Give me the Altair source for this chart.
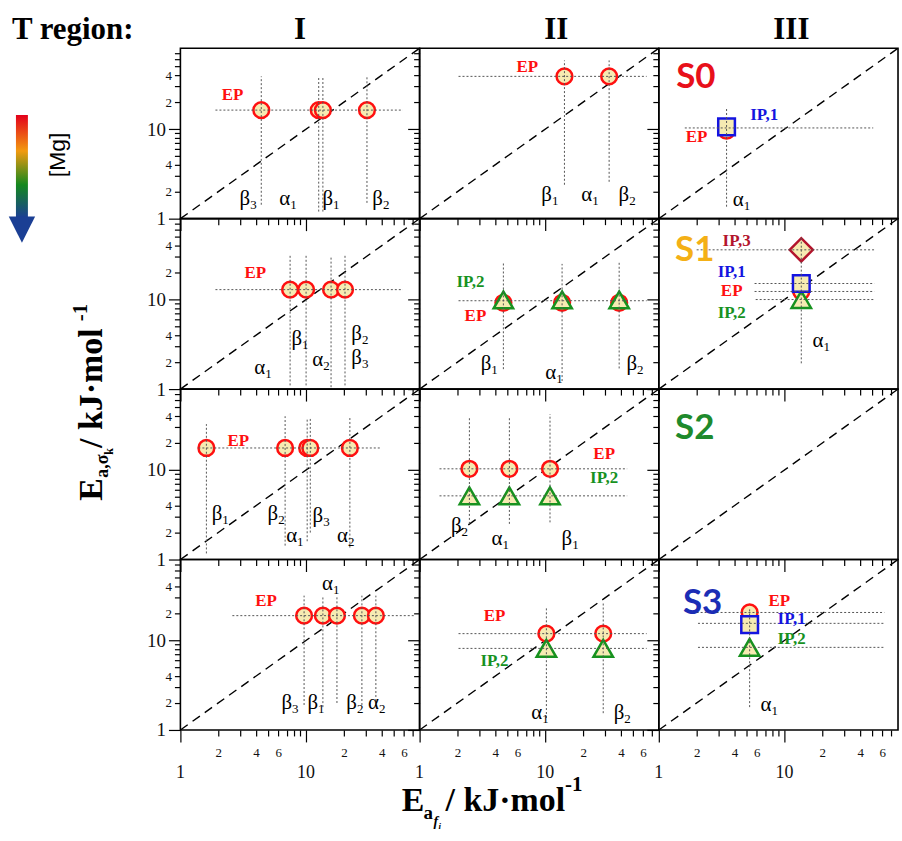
import altair as alt
import pandas as pd

XMAX = 80
TICKS = [1, 2, 3, 4, 5, 6, 7, 8, 9, 10, 20, 30, 40, 50, 60, 70]
MAJOR_X = [1, 10]
MAJOR_X_TEXT = ["1", "10"]
DIAG = [1, 80]

# ---------------- markers: row, col, x (Ea,f), y (Ea,sigma), kind
MK_ROW = [0, 0, 0, 0,  0, 0,  0, 0,
          1, 1, 1, 1,  1, 1, 1, 1, 1, 1,  1, 1, 1, 1,
          2, 2, 2, 2, 2,  2, 2, 2, 2, 2, 2,
          3, 3, 3, 3, 3,  3, 3, 3, 3,  3, 3, 3]
MK_COL = [0, 0, 0, 0,  1, 1,  2, 2,
          0, 0, 0, 0,  1, 1, 1, 1, 1, 1,  2, 2, 2, 2,
          0, 0, 0, 0, 0,  1, 1, 1, 1, 1, 1,
          0, 0, 0, 0, 0,  1, 1, 1, 1,  2, 2, 2]
MK_X = [4.4, 12.6, 13.6, 30.5,  14.2, 32.2,  3.46, 3.46,
        7.46, 10.0, 15.8, 20.4,  4.64, 13.6, 38.7, 4.64, 13.6, 38.7,  13.6, 13.6, 13.6, 13.6,
        1.61, 6.81, 10.2, 10.8, 22.3,  2.49, 5.18, 10.9, 2.49, 5.18, 10.9,
        9.64, 13.6, 17.6, 27.8, 35.9,  10.2, 28.9, 10.2, 28.9,  5.28, 5.28, 5.28]
MK_Y = [16.3, 16.3, 16.3, 16.3,  38.8, 38.8,  9.6, 10.6,
        12.9, 12.9, 12.9, 12.9,  9.2, 9.2, 9.2, 9.9, 9.9, 9.9,  12.3, 10.0, 15.1, 35.9,
        17.6, 17.6, 17.6, 17.6, 17.6,  10.3, 10.3, 10.3, 5.14, 5.14, 5.14,
        18.9, 18.9, 18.9, 18.9, 18.9,  11.9, 11.9, 8.14, 8.14,  20.5, 15.0, 8.36]
MK_KIND = ["EP", "EP", "EP", "EP",  "EP", "EP",  "EP", "IP1",
           "EP", "EP", "EP", "EP",  "EP", "EP", "EP", "IP2", "IP2", "IP2",  "EP", "IP2", "IP1", "IP3",
           "EP", "EP", "EP", "EP", "EP",  "EP", "EP", "EP", "IP2", "IP2", "IP2",
           "EP", "EP", "EP", "EP", "EP",  "EP", "EP", "IP2", "IP2",  "EP", "IP1", "IP2"]

# ---------------- vertical dotted guides: row, col, x, y1, y2
VL_ROW = [0, 0, 0, 0, 0, 0, 0, 1, 1, 1, 1, 1, 1, 1, 1, 2, 2, 2, 2, 2, 2, 2, 2, 3, 3, 3, 3, 3, 3, 3, 3]
VL_COL = [0, 0, 0, 0, 1, 1, 2, 0, 0, 0, 0, 1, 1, 1, 2, 0, 0, 0, 0, 0, 1, 1, 1, 0, 0, 0, 0, 0, 1, 1, 2]
VL_X = [4.4, 12.6, 13.6, 30.5, 14.2, 32.2, 3.46,
        7.46, 10.0, 15.8, 20.4, 4.64, 13.6, 38.7, 13.6,
        1.61, 6.81, 10.2, 10.8, 22.3, 2.49, 5.18, 10.9,
        9.64, 13.6, 17.6, 27.8, 35.9, 10.2, 28.9, 5.28]
VL_Y1 = [1.43, 1.2, 1.2, 1.5, 2.39, 2.58, 1.36,
         1.1, 1.1, 1.05, 1.1, 1.67, 1.23, 1.7, 1.94,
         1.17, 1.43, 1.6, 2.0, 1.36, 2.5, 2.5, 2.6,
         1.9, 1.8, 2.0, 1.9, 1.9, 1.36, 1.54, 1.8]
VL_Y2 = [38.8, 38.8, 38.8, 38.8, 58.5, 58.5, 17.5,
         30.8, 30.8, 30.8, 30.8, 26.4, 25.0, 27.0, 48.9,
         32.5, 39.8, 38.0, 38.0, 38.0, 39.8, 39.8, 42.0,
         31.6, 31.6, 31.6, 31.6, 31.6, 23.3, 25.8, 23.3]

# ---------------- horizontal dotted guides: row, col, y, x1, x2
HL_ROW = [0, 0, 0, 1, 1, 1, 1, 1, 1, 2, 2, 2, 3, 3, 3, 3, 3, 3]
HL_COL = [0, 1, 2, 0, 1, 2, 2, 2, 2, 0, 1, 1, 0, 1, 1, 2, 2, 2]
HL_Y = [16.3, 38.8, 10.3, 12.9, 9.7, 35.9, 15.1, 12.3, 10.0, 17.6, 10.3, 5.14, 18.9, 11.9, 8.14, 20.5, 15.5, 8.36]
HL_X1 = [1.9, 2.04, 1.61, 1.9, 2.04, 2.0, 5.78, 5.78, 5.9, 1.39, 1.44, 1.44, 2.59, 2.04, 2.04, 2.0, 2.05, 2.05]
HL_X2 = [58.9, 64, 50.8, 58.9, 64, 51.8, 51.8, 51.8, 51.8, 39.4, 44.8, 44.8, 73, 64, 64, 62.2, 62.2, 62.2]

# ---------------- point labels: row, col, x, y, text, kind
LB_ROW = [0, 0, 0, 0, 0, 1, 1, 1, 1, 1, 1, 1, 1, 2, 2, 2, 2, 3, 3, 3, 3, 3, 3, 3]
LB_COL = [0, 1, 2, 2, 2, 0, 1, 1, 2, 2, 2, 2, 2, 0, 1, 1, 2, 0, 1, 1, 2, 2, 2, 2]
LB_X = [2.6, 7.2, 1.97, 6.9, 2.0, 3.94, 2.54, 2.78, 1.93, 4.16, 3.8, 3.8, 3.8,
        2.89, 29.4, 29.4, 1.93, 4.8, 3.94, 3.94, 2.23, 9.1, 11.4, 11.4]
LB_Y = [23.9, 48.9, 37.8, 14.3, 8.1, 19.9, 15.5, 6.47, 35.9, 45.3, 20.5, 12.3, 7.0,
        21.0, 15.1, 8.14, 29.3, 27.8, 18.9, 5.84, 26.4, 27.8, 17.5, 10.3]
LB_TEXT = ["EP", "EP", "S0", "IP,1", "EP", "EP", "IP,2", "EP", "S1", "IP,3", "IP,1", "EP", "IP,2",
           "EP", "EP", "IP,2", "S2", "EP", "EP", "IP,2", "S3", "EP", "IP,1", "IP,2"]
LB_KIND = ["EP", "EP", "S0", "IP1", "EP", "EP", "IP2", "EP", "S1", "IP3", "IP1", "EP", "IP2",
           "EP", "EP", "IP2", "S2", "EP", "EP", "IP2", "S3", "EP", "IP1", "IP2"]

# ---------------- greek labels: row, col, x, y, letter, subscript
GR_ROW = [0, 0, 0, 0, 0, 0, 0, 0, 1, 1, 1, 1, 1, 1, 1, 1, 1,
          2, 2, 2, 2, 2, 2, 2, 2, 3, 3, 3, 3, 3, 3, 3, 3]
GR_COL = [0, 0, 0, 0, 1, 1, 1, 2, 0, 0, 0, 0, 0, 1, 1, 1, 2,
          0, 0, 0, 0, 0, 1, 1, 1, 0, 0, 0, 0, 0, 1, 1, 2]
GR_X = [3.46, 7.2, 15.8, 39.4, 10.9, 22.8, 44.9, 4.56, 4.56, 8.96, 13.2, 26.8, 26.8, 3.59, 11.8, 51.8, 19.7,
        2.08, 5.78, 8.18, 13.2, 20.8, 2.08, 4.4, 15.8, 15.8, 7.46, 12.0, 24.5, 36.6, 9.1, 41.0, 7.6]
GR_Y = [1.67, 1.67, 1.67, 1.67, 1.85, 1.85, 1.85, 1.63, 1.71, 3.59, 2.1, 4.08, 2.21, 1.9, 1.5, 1.9, 3.41,
        3.24, 3.24, 1.85, 3.08, 1.85, 2.39, 1.71, 1.71, 43.0, 2.0, 2.0, 2.0, 2.0, 1.55, 1.55, 1.9]
GR_LET = ["β", "α", "β", "β", "β", "α", "β", "α", "α", "β", "α", "β", "β", "β", "α", "β", "α",
          "β", "β", "α", "β", "α", "β", "α", "β", "α", "β", "β", "β", "α", "α", "β", "α"]
GR_SUB = ["3", "1", "1", "2", "1", "1", "2", "1", "1", "1", "2", "2", "3", "1", "1", "2", "1",
          "1", "2", "1", "3", "2", "2", "1", "1", "1", "3", "1", "2", "2", "1", "2", "1"]

# ---------------- styles
KIND_NAMES = ["EP", "IP1", "IP2", "IP3", "S0", "S1", "S2", "S3"]
KIND_COLORS = ["#ff1010", "#1414e0", "#17921f", "#b3142c", "#e8101a", "#f4b016", "#1e8a2c", "#1b2db5"]
MARK_SHAPES = {"EP": ("circle", 250), "IP2": ("triangle-up", 380), "IP1": ("square", 280), "IP3": ("diamond", 540)}
FILL = "#f6ebb2"
SERIF = "Liberation Serif"

markers = pd.DataFrame({"row": MK_ROW, "col": MK_COL, "x": MK_X, "y": MK_Y, "kind": MK_KIND})
vlines = pd.DataFrame({"row": VL_ROW, "col": VL_COL, "x": VL_X, "y1": VL_Y1, "y2": VL_Y2})
hlines = pd.DataFrame({"row": HL_ROW, "col": HL_COL, "y": HL_Y, "x1": HL_X1, "x2": HL_X2})
labels = pd.DataFrame({"row": LB_ROW, "col": LB_COL, "x": LB_X, "y": LB_Y, "text": LB_TEXT, "kind": LB_KIND})
greek = pd.DataFrame({"row": GR_ROW, "col": GR_COL, "x": GR_X, "y": GR_Y, "g": GR_LET, "s": GR_SUB})
majx = pd.DataFrame({"x": MAJOR_X, "t": MAJOR_X_TEXT})
diag = pd.DataFrame({"x": DIAG, "y": DIAG})
one = pd.DataFrame({"k": [0]})

MAJOR = "datum.value == 1 || datum.value == 10"
XLAB = ("(datum.value == 2 || datum.value == 20) ? '2' : (datum.value == 4 || datum.value == 40) ? '4' : "
        "(datum.value == 6 || datum.value == 60) ? '6' : ''")
YLAB = ("datum.value == 1 ? '1' : datum.value == 10 ? '10' : "
        "(datum.value == 2 || datum.value == 20) ? '2' : (datum.value == 4 || datum.value == 40) ? '4' : ''")


def xaxis(show):
    return alt.Axis(values=TICKS, title=None, grid=False, domain=False, labels=show,
                    labelExpr=XLAB, labelFont=SERIF, labelColor="#111", labelFontSize=13,
                    labelPadding=11, labelBaseline="top", labelFlush=False, labelOverlap=False,
                    labelBound=False,
                    tickSize={"condition": {"test": MAJOR, "value": 12}, "value": 6},
                    tickColor="black", tickWidth=1.2)


def yaxis(show):
    return alt.Axis(values=TICKS, title=None, grid=False, domain=False, labels=show,
                    labelExpr=YLAB, labelFont=SERIF, labelColor="#111",
                    labelFontSize={"condition": {"test": MAJOR, "value": 19}, "value": 13},
                    labelPadding=3, labelFlush=False, labelOverlap=False, labelBound=False,
                    tickSize={"condition": {"test": MAJOR, "value": 12}, "value": 6},
                    tickColor="black", tickWidth=1.2)


W, H = 240, 171
OX, OY = 180, 46  # page position of the top-left panel


def decorations():
    layers = []
    # invisible anchor at page origin
    layers.append(alt.Chart(one).mark_rule(strokeOpacity=0).encode(
        x=alt.value(-OX), x2=alt.value(-OX + 1), y=alt.value(-OY)))

    def txt(s, px, py, size, **kw):
        return alt.Chart(one).mark_text(text=s, fontSize=size, **kw).encode(
            x=alt.value(px - OX), y=alt.value(py - OY))

    bold = dict(font=SERIF, fontWeight="bold", color="black")
    layers.append(txt("T region:", 11, 37, 31, align="left", baseline="alphabetic", **bold))
    layers.append(txt("I", 300, 37, 31, align="center", baseline="alphabetic", **bold))
    layers.append(txt("II", 557, 37, 31, align="center", baseline="alphabetic", **bold))
    layers.append(txt("III", 793, 37, 31, align="center", baseline="alphabetic", **bold))
    layers.append(txt("[Mg]", 57, 153, 23, align="center", baseline="middle", angle=270,
                      font="Liberation Sans", color="black"))
    # gradient arrow
    grad = {"gradient": "linear", "x1": 0, "y1": 0, "x2": 0, "y2": 1,
            "stops": [{"offset": 0, "color": "#e3001b"}, {"offset": 0.35, "color": "#f29a10"},
                      {"offset": 0.68, "color": "#14881e"}, {"offset": 1, "color": "#1b3f94"}]}
    layers.append(alt.Chart(one).mark_rect(fill=grad).encode(
        x=alt.value(15 - OX), x2=alt.value(27 - OX), y=alt.value(113 - OY), y2=alt.value(216 - OY)))
    layers.append(alt.Chart(one).mark_point(shape="M-1,-1L1,-1L0,1Z", filled=True, fill="#1b3f94",
                                            opacity=1, size=700).encode(
        x=alt.value(21 - OX), y=alt.value(228 - OY)))
    # y axis title (rotated, pieced)
    rot = dict(angle=270, align="left", baseline="alphabetic", font=SERIF, fontWeight="bold", color="black")
    layers.append(txt("E", 101, 500, 34, **rot))
    layers.append(txt("a,σ", 107, 477, 18, **rot))
    layers.append(txt("k", 112, 454, 12, **rot))
    layers.append(txt(" / kJ·mol", 101, 447, 34, **rot))
    layers.append(txt("-1", 86, 320, 21, **rot))
    # x axis title (pieced)
    hor = dict(align="left", baseline="alphabetic", font=SERIF, fontWeight="bold", color="black")
    layers.append(txt("E", 402, 811, 34, **hor))
    layers.append(txt("a", 424, 819, 19, **hor))
    layers.append(txt("f", 434, 826, 14, align="left", baseline="alphabetic", font=SERIF,
                      fontWeight="bold", fontStyle="italic", color="black"))
    layers.append(txt("i", 439, 829, 9, align="left", baseline="alphabetic", font=SERIF,
                      fontWeight="bold", fontStyle="italic", color="black"))
    layers.append(txt("/ kJ·mol", 446, 811, 34, **hor))
    layers.append(txt("-1", 566, 791, 21, **hor))
    return layers


def panel(r, c):
    xs = alt.Scale(type="log", domain=[1, XMAX], nice=False)
    ys = alt.Scale(type="log", domain=[1, XMAX], nice=False)
    ax = xaxis(r == 3)
    ay = yaxis(c == 0)

    def X(f):
        return alt.X(f"{f}:Q", scale=xs, axis=ax)

    def Y(f):
        return alt.Y(f"{f}:Q", scale=ys, axis=ay)

    sel = lambda df: df[(df["row"] == r) & (df["col"] == c)]
    layers = [alt.Chart(diag).mark_line(color="black", strokeDash=[9, 6], strokeWidth=1.4).encode(
        x=X("x"), y=Y("y"))]
    mk = sel(markers)
    for kind in ["EP", "IP2", "IP1", "IP3"]:
        d = mk[mk["kind"] == kind]
        if len(d) == 0:
            continue
        shape, size = MARK_SHAPES[kind]
        col = KIND_COLORS[KIND_NAMES.index(kind)]
        layers.append(alt.Chart(d).mark_point(shape=shape, size=size, filled=False, fill=FILL,
                                              fillOpacity=1, stroke=col, strokeWidth=2.5, opacity=1).encode(
            x=X("x"), y=Y("y")))
    vd = sel(vlines)
    if len(vd):
        layers.append(alt.Chart(vd).mark_rule(color="#555", strokeDash=[2, 2], strokeWidth=1).encode(
            x=X("x"), y=Y("y1"), y2=alt.Y2("y2:Q")))
    hd = sel(hlines)
    if len(hd):
        layers.append(alt.Chart(hd).mark_rule(color="#555", strokeDash=[2, 2], strokeWidth=1).encode(
            x=X("x1"), x2=alt.X2("x2:Q"), y=Y("y")))
    lb = sel(labels)
    colscale = alt.Scale(domain=KIND_NAMES, range=KIND_COLORS)
    small = lb[~lb["kind"].str.startswith("S")]
    big = lb[lb["kind"].str.startswith("S")]
    if len(small):
        layers.append(alt.Chart(small).mark_text(font=SERIF, fontWeight="bold", fontSize=17,
                                                 align="center", baseline="middle").encode(
            x=X("x"), y=Y("y"), text="text:N", color=alt.Color("kind:N", scale=colscale, legend=None)))
    if len(big):
        layers.append(alt.Chart(big).mark_text(font="Lato", fontWeight="bold", fontSize=35,
                                               align="center", baseline="middle").encode(
            x=X("x"), y=Y("y"), text="text:N", color=alt.Color("kind:N", scale=colscale, legend=None)))
    gd = sel(greek)
    if len(gd):
        layers.append(alt.Chart(gd).mark_text(font=SERIF, fontSize=21, align="right", baseline="middle",
                                              dx=2, color="black").encode(x=X("x"), y=Y("y"), text="g:N"))
        layers.append(alt.Chart(gd).mark_text(font=SERIF, fontSize=13, align="left", baseline="middle",
                                              dx=2, dy=6, color="black").encode(x=X("x"), y=Y("y"), text="s:N"))
    if r == 3:
        # major tick labels (1, 10) on a second, lower line below the axis
        layers.append(alt.Chart(majx).mark_text(font=SERIF, fontSize=18, align="center", baseline="middle",
                                                color="#111").encode(
            x=X("x"), y=alt.value(H + 43), text="t:N"))
    if r == 0 and c == 0:
        layers += decorations()
    return alt.layer(*layers).properties(width=W, height=H)


panels = [panel(r, c) for r in range(4) for c in range(3)]
chart = alt.concat(*panels, columns=3, spacing=0, bounds="flush").properties(
    padding=0, background="white"
).configure_view(stroke="black", strokeWidth=1.6)

chart.save("out.html", embed_options={"renderer": "svg", "actions": False})
